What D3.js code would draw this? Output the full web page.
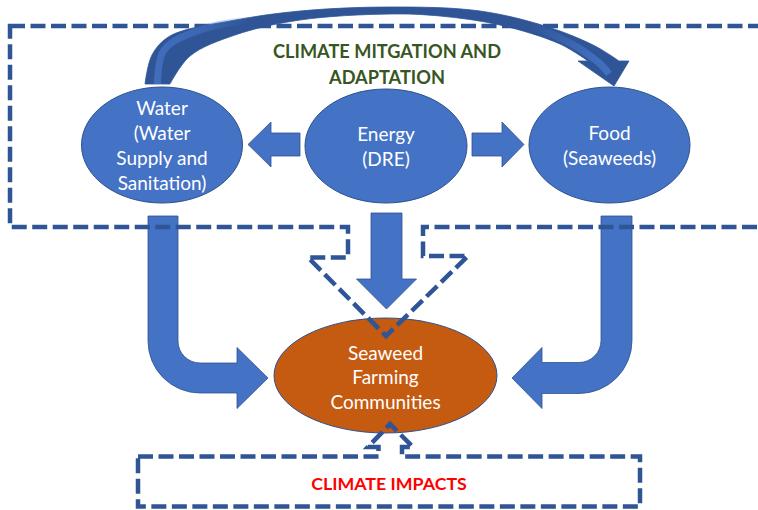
<!DOCTYPE html>
<html>
<head>
<meta charset="utf-8">
<script src="https://cdn.jsdelivr.net/npm/d3@7"></script>
<style>
  html, body { margin: 0; padding: 0; background: #ffffff; }
  svg { display: block; }
</style>
</head>
<body>
<div id="chart"></div>
<script>
// ---------- content ----------
const nodeIds = ["water", "energy", "food"];
const nodeLabels = [
  ["Water", "(Water", "Supply and", "Sanitation)"],
  ["Energy", "(DRE)"],
  ["Food", "(Seaweeds)"]
];
const hubLabel = ["Seaweed", "Farming", "Communities"];
const mitigationTitle = ["CLIMATE MITGATION AND", "ADAPTATION"];
const impactsTitle = ["CLIMATE IMPACTS"];
// flows: from -> to
const flows = [
  ["energy", "water"],
  ["energy", "food"],
  ["energy", "hub"],
  ["water", "hub"],
  ["food", "hub"],
  ["water", "food"]
];

// ---------- layout (positions / styles) ----------
const W = 758, H = 510;
const C = {
  blue: "#4472C4", blueStroke: "#2F528F", dark: "#2F5597",
  orange: "#C55A11", green: "#375623", red: "#FF0000"
};
const font = "Lato, 'Noto Sans', sans-serif";
const ellipses = {
  water:  { cx: 162,   cy: 145,   rx: 80.5,  ry: 58 },
  energy: { cx: 386,   cy: 146,   rx: 81,    ry: 57 },
  food:   { cx: 609.5, cy: 145,   rx: 80.5,  ry: 58 },
  hub:    { cx: 385.5, cy: 375.5, rx: 111.5, ry: 57.5 }
};

const svg = d3.select("#chart").append("svg")
  .attr("width", W).attr("height", H)
  .attr("viewBox", `0 0 ${W} ${H}`);

// straight block arrow polygon from tail to tip
function blockArrow(tail, tip, shaftW, headW, headL) {
  const dx = tip[0] - tail[0], dy = tip[1] - tail[1];
  const L = Math.hypot(dx, dy), ux = dx / L, uy = dy / L, nx = -uy, ny = ux;
  const bx = tip[0] - ux * headL, by = tip[1] - uy * headL;
  const p = d3.path();
  p.moveTo(tail[0] + nx * shaftW / 2, tail[1] + ny * shaftW / 2);
  p.lineTo(bx + nx * shaftW / 2, by + ny * shaftW / 2);
  p.lineTo(bx + nx * headW / 2, by + ny * headW / 2);
  p.lineTo(tip[0], tip[1]);
  p.lineTo(bx - nx * headW / 2, by - ny * headW / 2);
  p.lineTo(bx - nx * shaftW / 2, by - ny * shaftW / 2);
  p.lineTo(tail[0] - nx * shaftW / 2, tail[1] - ny * shaftW / 2);
  p.closePath();
  return p.toString();
}

// bent (down then sideways) arrow; dir = +1 goes right, -1 goes left
function bentArrow(vx, topY, hy, sw, ri, headBaseX, tipX, headW, dir) {
  const ro = ri + sw;
  const innerX = vx + dir * sw / 2, outerX = vx - dir * sw / 2;
  const ccx = innerX + dir * ri, ccy = hy - sw / 2 - ri;
  const p = d3.path();
  p.moveTo(outerX, topY);
  p.lineTo(innerX, topY);
  p.lineTo(innerX, ccy);
  if (dir > 0) p.arc(ccx, ccy, ri, Math.PI, Math.PI / 2, true);
  else p.arc(ccx, ccy, ri, 0, Math.PI / 2, false);
  p.lineTo(headBaseX, hy - sw / 2);
  p.lineTo(headBaseX, hy - headW / 2);
  p.lineTo(tipX, hy);
  p.lineTo(headBaseX, hy + headW / 2);
  p.lineTo(headBaseX, hy + sw / 2);
  p.lineTo(ccx, hy + sw / 2);
  if (dir > 0) p.arc(ccx, ccy, ro, Math.PI / 2, Math.PI, false);
  else p.arc(ccx, ccy, ro, Math.PI / 2, 0, true);
  p.closePath();
  return p.toString();
}

const arrowPaths = {
  "energy-water": blockArrow([300, 144.5], [248, 144.5], 23, 45, 23),
  "energy-food":  blockArrow([472, 144.5], [524, 144.5], 23, 45, 22),
  "energy-hub":   blockArrow([386.5, 213], [386.5, 309], 31, 60, 30),
  "water-hub":    bentArrow(163, 216, 378, 30, 22, 237, 268, 61, 1),
  "food-hub":     bentArrow(616.5, 216, 378, 31, 22, 542, 512, 61, -1)
};

// ---------- arrows ----------
const gArrows = svg.append("g");
flows.filter(f => arrowPaths[f[0] + "-" + f[1]]).forEach(f => {
  gArrows.append("path")
    .attr("d", arrowPaths[f[0] + "-" + f[1]])
    .attr("fill", C.blue)
    .attr("stroke", C.blueStroke)
    .attr("stroke-width", 0.8);
});

// ---------- ellipses ----------
const gNodes = svg.append("g");
nodeIds.forEach((id, i) => {
  const e = ellipses[id];
  gNodes.append("ellipse")
    .attr("cx", e.cx).attr("cy", e.cy).attr("rx", e.rx).attr("ry", e.ry)
    .attr("fill", C.blue).attr("stroke", C.blueStroke).attr("stroke-width", 1);
  const lines = nodeLabels[i], lh = 25;
  lines.forEach((t, j) => {
    gNodes.append("text")
      .attr("x", e.cx)
      .attr("y", e.cy + (j - (lines.length - 1) / 2) * lh)
      .attr("text-anchor", "middle").attr("dominant-baseline", "central")
      .attr("fill", "#ffffff").attr("font-family", font).attr("font-size", 19)
      .text(t);
  });
});
{
  const e = ellipses.hub;
  gNodes.append("ellipse")
    .attr("cx", e.cx).attr("cy", e.cy).attr("rx", e.rx).attr("ry", e.ry)
    .attr("fill", C.orange).attr("stroke", C.blueStroke).attr("stroke-width", 1);
  const lh = 24.5;
  hubLabel.forEach((t, j) => {
    gNodes.append("text")
      .attr("x", e.cx)
      .attr("y", e.cy + 1 + (j - (hubLabel.length - 1) / 2) * lh)
      .attr("text-anchor", "middle").attr("dominant-baseline", "central")
      .attr("fill", "#ffffff").attr("font-family", font).attr("font-size", 19)
      .text(t);
  });
}

// ---------- dashed outlines ----------
const dashStyle = sel => sel
  .attr("fill", "none").attr("stroke", C.dark).attr("stroke-width", 4.5)
  .attr("stroke-dasharray", "15,5.5").attr("stroke-linejoin", "miter");

const topFrame = [
  [10, 26], [775, 26], [775, 227], [423, 227], [423, 256], [468, 256],
  [386, 336], [308, 257.5], [348, 257.5], [348, 227], [10, 227]
];
svg.append("path")
  .attr("d", d3.line()(topFrame) + "Z")
  .call(dashStyle);

const bottomFrame = [
  [138, 456.5], [378.5, 456.5], [378.5, 447], [368, 447], [390, 424],
  [413, 447], [402, 447], [402, 456.5], [640, 456.5], [640, 506.5], [138, 506.5]
];
svg.append("path")
  .attr("d", d3.line()(bottomFrame) + "Z")
  .call(dashStyle);

// ---------- curved arrow (water -> food) ----------
const outerEdge = [[145, 84], [152, 55], [170, 36], [230, 21], [300, 11], [390, 7],
                   [480, 11], [548, 27], [595, 46], [619, 61]];
const innerEdge = [[588, 61], [560, 44], [500, 25], [440, 16], [390, 14], [300, 20],
                   [235, 35], [190, 56], [170, 84]];
const head = [[629, 61], [614, 86], [578, 61]];
const curve = d3.line().curve(d3.curveCatmullRom.alpha(0.5));
const curvedD = curve(outerEdge) + head.map(p => "L" + p[0] + "," + p[1]).join("") +
  "L" + curve(innerEdge).slice(1) + "Z";

const defs = svg.append("defs");
const grad = defs.append("linearGradient").attr("id", "stripeGrad")
  .attr("gradientUnits", "userSpaceOnUse").attr("x1", 140).attr("x2", 640).attr("y1", 0).attr("y2", 0);
[[0, 0.9], [0.12, 0.6], [0.22, 0], [0.78, 0], [0.9, 0.8], [1, 1]].forEach(s =>
  grad.append("stop").attr("offset", s[0]).attr("stop-color", C.blue).attr("stop-opacity", s[1]));

svg.append("path").attr("d", curvedD)
  .attr("fill", C.dark).attr("stroke", C.dark).attr("stroke-width", 0.8);

const midLine = [[157.5, 84], [164, 50], [200, 30], [265, 18], [390, 10.5], [490, 16],
                 [560, 38], [598, 62], [609, 74]];
svg.append("path").attr("d", curve(midLine))
  .attr("fill", "none").attr("stroke", "url(#stripeGrad)").attr("stroke-width", 7)
  .attr("stroke-linecap", "butt");

// ---------- titles ----------
mitigationTitle.forEach((t, j) => {
  svg.append("text")
    .attr("x", 387).attr("y", 50.5 + j * 26)
    .attr("text-anchor", "middle").attr("dominant-baseline", "central")
    .attr("fill", C.green).attr("font-family", font).attr("font-weight", "bold")
    .attr("font-size", 18.2).text(t);
});
impactsTitle.forEach(t => {
  svg.append("text")
    .attr("x", 389).attr("y", 483)
    .attr("text-anchor", "middle").attr("dominant-baseline", "central")
    .attr("fill", C.red).attr("font-family", font).attr("font-weight", "bold")
    .attr("font-size", 17.8).text(t);
});
</script>
</body>
</html>
